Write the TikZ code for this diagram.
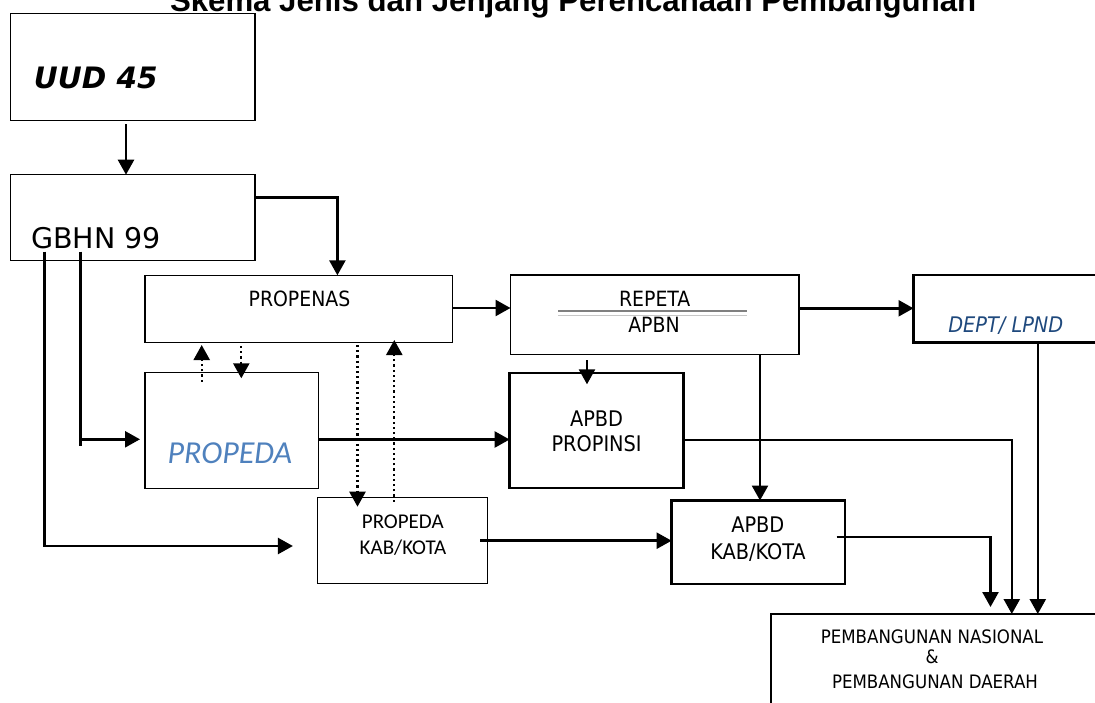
\documentclass[tikz,border=0pt]{standalone}
\usepackage{fontspec}
\setmainfont{DejaVu Sans}
\newfontfamily\dv{DejaVu Sans}
\newfontfamily\dvc{DejaVu Sans Condensed}
\newfontfamily\carl{Carlito}
\newfontfamily\arl{Liberation Sans}
\usetikzlibrary{arrows.meta,calc}
\definecolor{propblue}{RGB}{79,129,189}
\definecolor{deptblue}{RGB}{31,73,125}
\newcommand{\fsz}[1]{\fontsize{#1pt}{#1pt}\selectfont}
\begin{document}
\begin{tikzpicture}[x=1pt,y=-1pt,
  box/.style={draw, line width=1.4pt, inner sep=0pt, outer sep=0pt, anchor=north west},
  tbox/.style={box, line width=2.3pt},
  txt/.style={inner sep=0pt, outer sep=0pt, anchor=base},
  ln/.style={line width=2.5pt},
  arr/.style={ln, -{Triangle[width=16pt,length=15pt]}},
  dotarr/.style={line width=2.3pt, dash pattern=on 2.2pt off 3pt, -{Triangle[width=16pt,length=15pt]}}]

\useasboundingbox (0,0) rectangle (1095,702);

% boxes
\node[box,  minimum width=244.5pt, minimum height=107.4pt] (uud)      at (10.5,13.3)  {};
\node[box,  minimum width=244.5pt, minimum height=86pt]    (gbhn)     at (10.5,174.7) {};
\node[box,  minimum width=307.5pt, minimum height=67.4pt]  (propenas) at (145,275.3)  {};
\node[box,  minimum width=288.3pt, minimum height=79.3pt]  (repeta)   at (510.5,275)  {};
\node[tbox, minimum width=200pt,   minimum height=67.5pt]  (dept)     at (913.5,275)  {};
\node[box,  minimum width=173.3pt, minimum height=115.6pt] (propeda)  at (145,372.7)  {};
\node[tbox, minimum width=174pt,   minimum height=115pt]   (apbdprop) at (509.6,373.3) {};
\node[box,  minimum width=170.3pt, minimum height=86.4pt]  (propkab)  at (317.4,497.3) {};
\node[tbox, minimum width=173.4pt, minimum height=83.5pt]  (apbdkab)  at (671.6,500.5) {};
\node[box,  minimum width=340pt,   minimum height=120pt]   (pemb)     at (771,614)    {};

% texts
\node[txt, anchor=base west, font={\arl\bfseries\fsz{31.2}}] (title) at (170,11) {Skema Jenis dan Jenjang Perencanaan Pembangunan};
\node[txt, anchor=base west, font={\dv\bfseries\itshape\fsz{29.5}}] (uudt) at (34,88.3) {UUD 45};
\node[txt, anchor=base west, font={\dv\fsz{28.5}}] (gbhnt) at (31,248.3) {GBHN 99};
\node[txt, font={\dvc\fsz{21}}] (propenast) at (299.5,306.7) {PROPENAS};
\node[txt, font={\dvc\fsz{21}}] (repetat) at (654.7,306.7) {REPETA};
\node[txt, font={\dvc\fsz{21}}] (apbnt) at (654,332.3) {APBN};
\draw[line width=1.8pt, black!50] (558.2,311) -- (747,311);
\draw[line width=1.4pt, black!22] (558.2,315.7) -- (747,315.7);
\node[txt, font={\dvc\fsz{21.5}}] (apbd1) at (596.6,426.7) {APBD};
\node[txt, font={\dvc\fsz{21.5}}] (prop1) at (596.6,451.7) {PROPINSI};
\node[txt, font={\dvc\fsz{21.5}}] (apbd2) at (757.8,532.7) {APBD};
\node[txt, font={\dvc\fsz{21.5}}] (kab2) at (758,559) {KAB/KOTA};
\node[txt, anchor=base west, font={\carl\itshape\fsz{32}}, text=propblue] (propedat) at (167.7,463.3) {PROPEDA};
\node[txt, font={\carl\fsz{21}}] (pk1) at (402.8,528.3) {PROPEDA};
\node[txt, font={\carl\fsz{21}}] (pk2) at (403,554) {KAB/KOTA};
\node[txt, anchor=base west, font={\dvc\itshape\fsz{21.5}}, text=deptblue] (deptt) at (948.3,332.5) {DEPT/ LPND};
\node[txt, font={\dvc\fsz{18.5}}] (p1) at (932,643.3) {PEMBANGUNAN NASIONAL};
\node[txt, font={\dvc\fsz{18.5}}] (p2) at (932,663.3) {\&};
\node[txt, font={\dvc\fsz{18.5}}] (p3) at (935,688.3) {PEMBANGUNAN DAERAH};

% connectors
\draw[arr] ($(uud.south)+(-6.75,3.3)$) -- (gbhn.north -| 126,0);
\draw[arr] (gbhn.east |- 0,197.5) -| (propenas.north -| 337.4,0);

\coordinate (g2top) at ($(gbhn.south west)+(70.2,-9)$);
\coordinate (g2) at (80.7,439.3);
\draw[ln] (g2top) -- (80.7,446);
\draw[arr] (g2) -- ($(propeda.west |- g2)+(-5,0)$);

\coordinate (g1top) at ($(gbhn.south west)+(34,-9)$);
\coordinate (g1) at (44.5,546);
\draw[ln] (g1top) -- (44.5,547.3);
\draw[arr] (g1) -- ($(propkab.west |- g1)+(-24.5,0)$);

\draw[arr] (propenas.east |- 0,308) -- (repeta.west |- 0,308);
\draw[arr] (repeta.east |- 0,308.3) -- (dept.west |- 0,308.3);
\draw[arr] (propeda.east |- 0,439.5) -- (apbdprop.west |- 0,439.5);
\draw[arr] ($(propkab.east |- 0,540.7)+(-7.7,0)$) -- (apbdkab.west |- 0,540.7);

\draw[arr] ($(repeta.south -| 587,0)+(0,5.7)$) -- ($(apbdprop.north -| 587,0)+(0,11)$);
\draw[arr] (repeta.south -| 760,0) -- (apbdkab.north -| 760,0);

\draw[arr] (apbdprop.east |- 0,440) -| (pemb.north -| 1011.8,0);
\draw[arr] (dept.south -| 1037.8,0) -- (pemb.north -| 1037.8,0);
\draw[arr] ($(apbdkab.east |- 0,537)+(-8.4,0)$) -| ($(pemb.north -| 990.5,0)+(0,-7)$);

% dotted connectors
\draw[dotarr] ($(propeda.north -| 201.7,0)+(0,9)$) -- ($(propenas.south -| 201.7,0)+(0,2.3)$);
\draw[dotarr] ($(propenas.south -| 241.3,0)+(0,3.3)$) -- ($(propeda.north -| 241.3,0)+(0,5.6)$);
\draw[dotarr] ($(propenas.south -| 357.5,0)+(0,2.3)$) -- ($(propkab.north -| 357.5,0)+(0,9.4)$);
\draw[dotarr] ($(propkab.north -| 394.3,0)+(0,4.4)$) -- ($(propenas.south -| 394.3,0)+(0,-2.7)$);
\end{tikzpicture}
\end{document}
